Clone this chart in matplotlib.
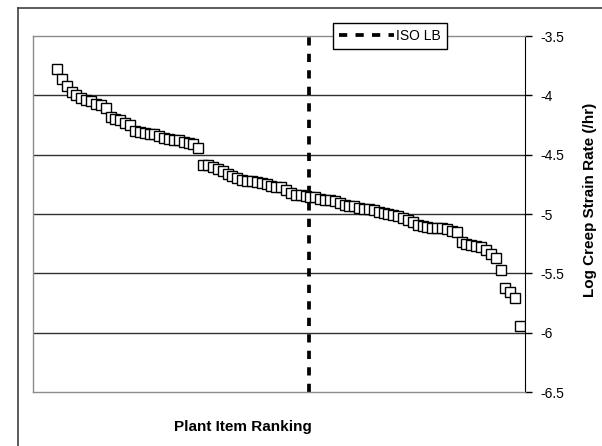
import numpy as np
import matplotlib
matplotlib.use("Agg")
import matplotlib.pyplot as plt
from matplotlib.lines import Line2D

plt.rcParams['font.family'] = ['Liberation Sans', 'DejaVu Sans']

# log creep strain rate, ranked
strain_rate = [
    -3.78, -3.86, -3.92, -3.97, -4.00, -4.02, -4.04, -4.05, -4.07, -4.08,
    -4.11, -4.18, -4.20, -4.21, -4.23, -4.25, -4.30, -4.31, -4.32, -4.33,
    -4.33, -4.34, -4.36, -4.37, -4.38, -4.38, -4.39, -4.40, -4.41,
    -4.44, -4.59, -4.59, -4.60, -4.62, -4.64, -4.66, -4.68, -4.70, -4.71,
    -4.72, -4.72, -4.73, -4.74, -4.75, -4.76, -4.77, -4.77, -4.80, -4.82,
    -4.84, -4.84, -4.85, -4.86, -4.86, -4.87, -4.88, -4.88, -4.89, -4.91,
    -4.92, -4.93, -4.93, -4.95, -4.96, -4.96, -4.97, -4.98, -4.99, -5.00,
    -5.01, -5.02, -5.03, -5.05, -5.07, -5.09, -5.10, -5.11, -5.12, -5.12,
    -5.12, -5.13, -5.14, -5.15, -5.24, -5.25, -5.26, -5.27, -5.28, -5.30,
    -5.34, -5.37, -5.47, -5.62, -5.66, -5.71, -5.94,
]
rank = np.arange(1, len(strain_rate) + 1)
iso_lb_rank = 52.7

yticks = [-3.5, -4, -4.5, -5, -5.5, -6, -6.5]
ytick_labels = ["-3.5", "-4", "-4.5", "-5", "-5.5", "-6", "-6.5"]

W, H = 602, 446
fig = plt.figure(figsize=(W/100, H/100), dpi=100)

# plot area in pixels
L, R, T, B = 33, 525, 36, 392
ax = fig.add_axes([L/W, 1-B/H, (R-L)/W, (B-T)/H])

n = len(strain_rate)
sp = (520 - 57) / (n - 1)
ax.set_xlim(1 - (57 - L)/sp, n + (R - 520)/sp)
ax.set_ylim(-6.5, -3.5)

for y in yticks[1:-1]:
    ax.axhline(y, color='#303030', lw=1, zorder=1)

ax.plot(rank, strain_rate, ls='none', marker='s', ms=6.5, mfc='white',
        mec='black', mew=1, zorder=3)

ax.axvline(iso_lb_rank, color='black', lw=2.7, ls=(0, (2.2, 2.2)),
           zorder=2, label='ISO LB')

ax.set_xticks([])
ax.yaxis.tick_right()
ax.set_yticks(yticks)
ax.set_yticklabels(ytick_labels, fontsize=10)
ax.tick_params(axis='y', direction='out', length=5, width=1, pad=6)

for s in ['top', 'left', 'bottom']:
    ax.spines[s].set_color('#8c8c8c')
    ax.spines[s].set_linewidth(1)
ax.spines['right'].set_color('black')

leg = ax.legend(loc='center', bbox_to_anchor=(390/W, 1-36/H),
                bbox_transform=fig.transFigure, fancybox=False,
                framealpha=1, edgecolor='black', fontsize=10,
                handlelength=4.0, handletextpad=0.15, borderpad=0.45,
                borderaxespad=0)
leg.get_frame().set_linewidth(1)

fig.text(243/W, 1-427/H, "Plant Item Ranking", ha='center', va='center',
         fontsize=11, fontweight='bold')
fig.text(590/W, 1-200/H, "Log Creep Strain Rate (/hr)", ha='center',
         va='center', rotation=90, fontsize=11, fontweight='bold')

# outer chart border (only top and left visible)
fig.add_artist(Line2D([18/W, 18/W], [0, 1-8/H], color='#404040', lw=1.2,
                      transform=fig.transFigure))
fig.add_artist(Line2D([18/W, 1], [1-8/H, 1-8/H], color='#404040', lw=1.2,
                      transform=fig.transFigure))

fig.savefig("out.png", dpi=100)
